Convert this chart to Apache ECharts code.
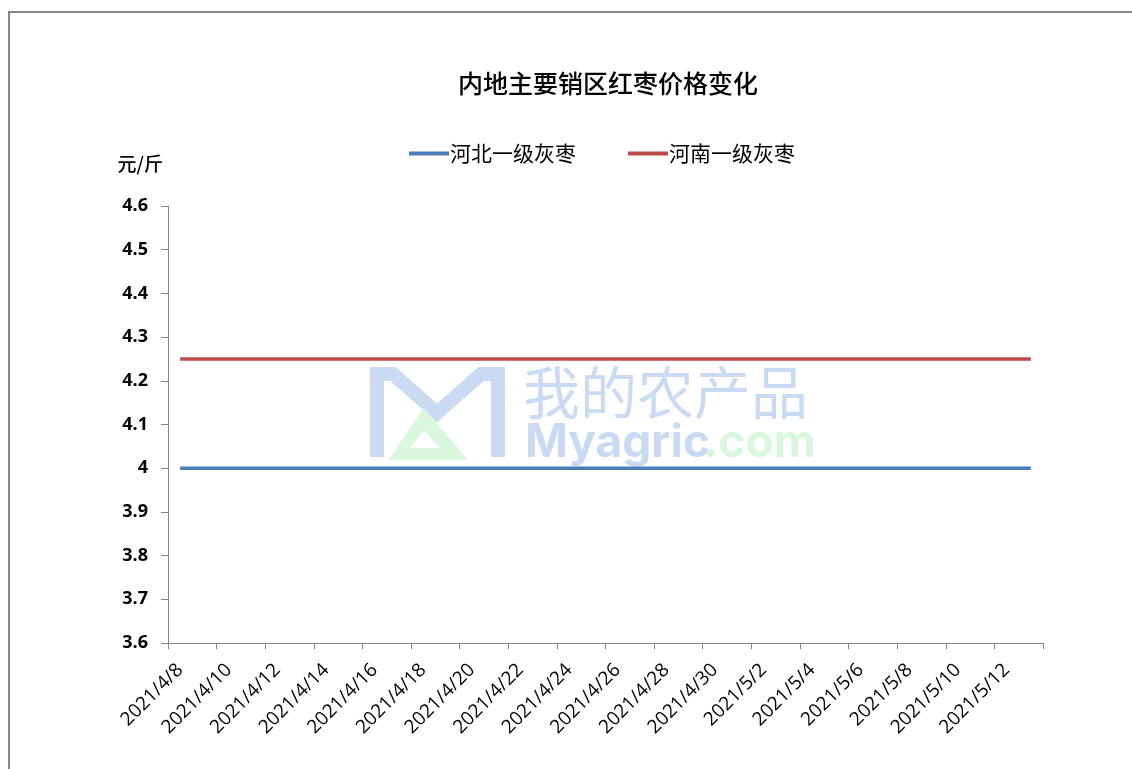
<!DOCTYPE html>
<html>
<head>
<meta charset="utf-8">
<script src="https://cdn.jsdelivr.net/npm/echarts@6/dist/echarts.min.js"></script>
<style>
html,body{margin:0;padding:0;background:#fff;}
#main{width:1132px;height:769px;}
</style>
</head>
<body>
<div id="main"></div>
<script>
const dates = ['2021/4/8','2021/4/9','2021/4/10','2021/4/11','2021/4/12','2021/4/13','2021/4/14','2021/4/15','2021/4/16','2021/4/17','2021/4/18','2021/4/19','2021/4/20','2021/4/21','2021/4/22','2021/4/23','2021/4/24','2021/4/25','2021/4/26','2021/4/27','2021/4/28','2021/4/29','2021/4/30','2021/5/1','2021/5/2','2021/5/3','2021/5/4','2021/5/5','2021/5/6','2021/5/7','2021/5/8','2021/5/9','2021/5/10','2021/5/11','2021/5/12','2021/5/13'];
const hebei = [4,4,4,4,4,4,4,4,4,4,4,4,4,4,4,4,4,4,4,4,4,4,4,4,4,4,4,4,4,4,4,4,4,4,4,4];
const henan = [4.25,4.25,4.25,4.25,4.25,4.25,4.25,4.25,4.25,4.25,4.25,4.25,4.25,4.25,4.25,4.25,4.25,4.25,4.25,4.25,4.25,4.25,4.25,4.25,4.25,4.25,4.25,4.25,4.25,4.25,4.25,4.25,4.25,4.25,4.25,4.25];
const seriesNames = ['河北一级灰枣','河南一级灰枣'];
const titleText = '内地主要销区红枣价格变化';
const unitText = '元/斤';

const chart = echarts.init(document.getElementById('main'));
const axisGray = '#868686';
chart.setOption({
  animation: false,
  backgroundColor: '#fff',
  title: {
    text: titleText,
    left: 453,
    top: 66,
    textStyle: {fontFamily: 'Noto Sans CJK SC', fontSize: 25, fontWeight: 500, color: '#000'}
  },
  legend: {
    top: 138,
    left: 404,
    itemWidth: 40,
    itemHeight: 4,
    itemGap: 52,
    icon: 'rect',
    textStyle: {fontFamily: 'Noto Sans CJK SC', fontSize: 21, color: '#000', padding: [0,0,0,-4]},
    data: seriesNames
  },
  grid: {left: 168, right: 89, top: 206, bottom: 126},
  xAxis: {
    type: 'category',
    data: dates,
    boundaryGap: true,
    axisLine: {lineStyle: {color: axisGray, width: 1}},
    axisTick: {show: true, interval: 1, length: 6, lineStyle: {color: axisGray}},
    axisLabel: {interval: 1, rotate: 45, margin: 24, fontFamily: 'Open Sans', fontSize: 19, color: '#000'},
    splitLine: {show: false}
  },
  yAxis: {
    type: 'value',
    min: 3.6,
    max: 4.6,
    interval: 0.1,
    name: unitText,
    nameLocation: 'end',
    nameGap: 33,
    nameTextStyle: {fontFamily: 'Noto Sans CJK SC', fontSize: 19, fontWeight: 500, color: '#000', align: 'right', padding: [0, 5, 0, 0]},
    axisLine: {show: true, lineStyle: {color: axisGray, width: 1}},
    axisTick: {show: true, inside: false, length: 7, lineStyle: {color: axisGray}},
    axisLabel: {margin: 20, fontFamily: 'Open Sans', fontWeight: 'bold', fontSize: 18, color: '#000',
      formatter: v => String(Math.round(v*10)/10)},
    splitLine: {show: false}
  },
  graphic: [
    {type: 'rect', z: -10, shape: {x: 9, y: 12, width: 1200, height: 800}, style: {fill: 'none', stroke: axisGray, lineWidth: 2}},
    {type: 'group', z: -5, silent: true, children: [
      {type: 'polyline', shape: {points: [[377,457],[377,374],[393,374],[437,413],[481,374],[498,374],[498,457]]}, style: {fill: 'none', stroke: '#C9DAF2', lineWidth: 14}},
      {type: 'polygon', shape: {points: [[388,460],[424,408],[468,460]]}, style: {fill: '#D9F7DC'}},
      {type: 'polygon', shape: {points: [[410,448],[424,430],[440,448]]}, style: {fill: '#fff'}},
      {type: 'text', style: {x: 523, y: 364, text: '我的农产品', fontFamily: 'Noto Sans CJK SC', fontSize: 57, fill: '#C9DAF2'}},
      {type: 'text', style: {x: 525, y: 420, text: 'Myagric', fontFamily: 'Inter', fontWeight: 'bold', fontSize: 46, fill: '#C9DAF2'}},
      {type: 'text', style: {x: 703, y: 420, text: '.com', fontFamily: 'Inter', fontWeight: 'bold', fontSize: 46, fill: '#D9F7DC'}}
    ]}
  ],
  series: [
    {name: seriesNames[0], type: 'line', data: hebei, symbol: 'none', lineStyle: {color: '#4A7EBB', width: 3.5}, itemStyle: {color: '#4A7EBB'}, z: 5},
    {name: seriesNames[1], type: 'line', data: henan, symbol: 'none', lineStyle: {color: '#BE4B48', width: 3.5}, itemStyle: {color: '#BE4B48'}, z: 5}
  ]
});
</script>
</body>
</html>
